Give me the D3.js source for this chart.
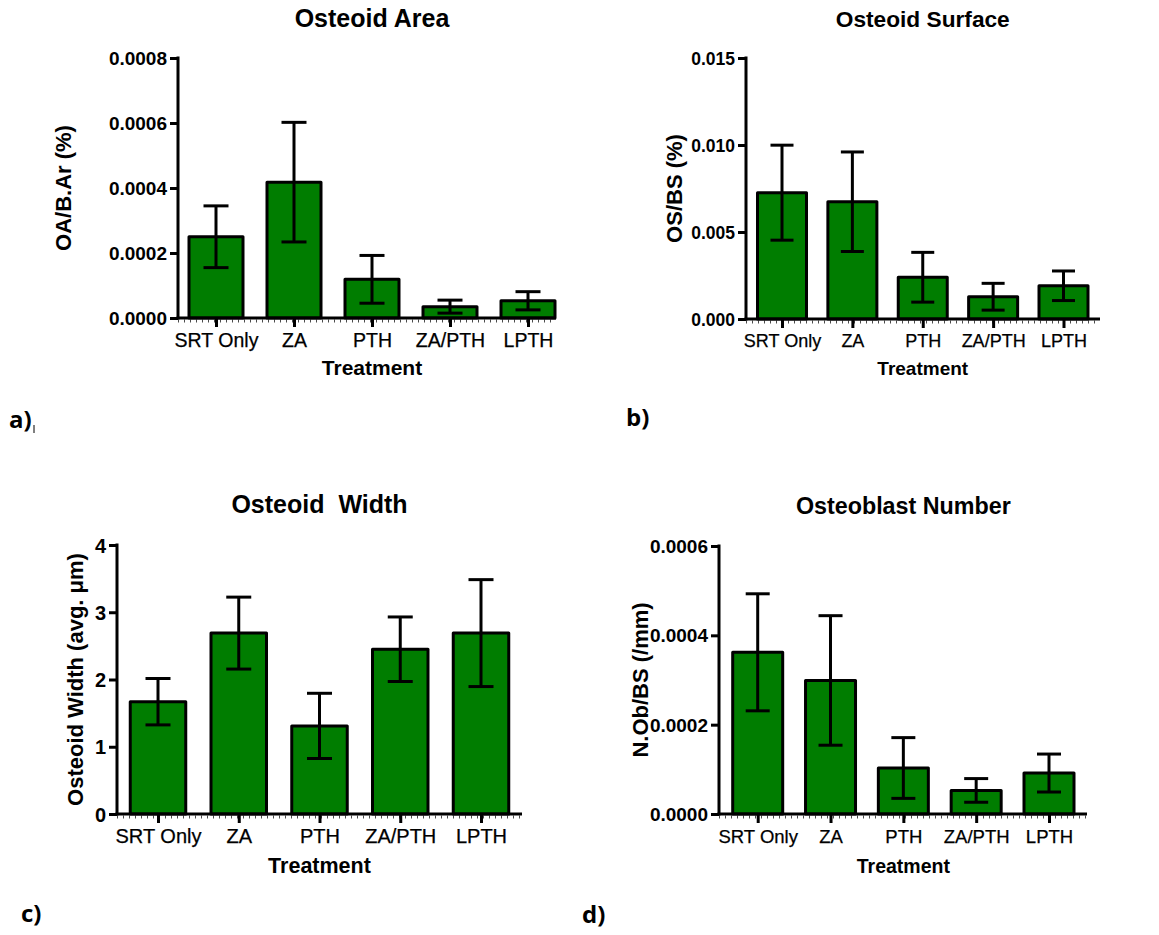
<!DOCTYPE html>
<html>
<head>
<meta charset="utf-8">
<script src="https://cdn.jsdelivr.net/npm/d3@7"></script>
<style>
  html, body { margin: 0; padding: 0; background: #fff; }
  svg { display: block; }
  text { font-family: "Liberation Sans", Arial, sans-serif; fill: #000; white-space: pre; }
</style>
</head>
<body>
<svg id="chart" width="1159" height="935"></svg>
<script>
// ---------------- data ----------------
const categories = ["SRT Only", "ZA", "PTH", "ZA/PTH", "LPTH"];

const areaMeans = [0.000250, 0.000418, 0.000119, 0.000035, 0.000053];
const areaSem   = [0.000095, 0.000184, 0.0000735, 0.000020, 0.000028];
const areaTicks = [0, 0.0002, 0.0004, 0.0006, 0.0008];

const surfaceMeans = [0.00726, 0.00674, 0.00240, 0.00128, 0.00191];
const surfaceSem   = [0.00273, 0.00286, 0.00143, 0.00077, 0.00085];
const surfaceTicks = [0, 0.005, 0.010, 0.015];

const widthMeans = [1.67, 2.69, 1.31, 2.45, 2.69];
const widthSem   = [0.345, 0.535, 0.485, 0.48, 0.795];
const widthTicks = [0, 1, 2, 3, 4];

const numberMeans = [0.000362, 0.000299, 0.000103, 0.0000528, 0.0000917];
const numberSem   = [0.000131, 0.000145, 0.000068, 0.0000265, 0.0000425];
const numberTicks = [0, 0.0002, 0.0004, 0.0006];

const titles  = ["Osteoid Area", "Osteoid Surface", "Osteoid  Width", "Osteoblast Number"];
const yLabels = ["OA/B.Ar (%)", "OS/BS (%)", "Osteoid Width (avg. \u03BCm)", "N.Ob/BS (/mm)"];
const xLabel  = "Treatment";
const panelTags = ["a)", "b)", "c)", "d)"];

// ---------------- layout ----------------
const panels = [
  { means: areaMeans, sem: areaSem, ticks: areaTicks, fmt: ".4f",
    ax0: 178, ax1: 556, c0: 216, c1: 528, y0: 318, yTop: 58, barW: 54, capW: 25,
    titleY: 27, titleSize: 25, yLabX: 71, yLabSize: 22, tickSize: 19, catSize: 19.5, catY: 347,
    xLabY: 375, xLabSize: 21, tagX: 9, tagY: 428 },
  { means: surfaceMeans, sem: surfaceSem, ticks: surfaceTicks, fmt: ".3f",
    ax0: 746, ax1: 1100, c0: 782, c1: 1063.5, y0: 319, yTop: 58, barW: 49, capW: 23,
    titleY: 27, titleSize: 22.7, yLabX: 682, yLabSize: 22, tickSize: 17.5, catSize: 18, catY: 347,
    xLabY: 375, xLabSize: 19, tagX: 626, tagY: 426 },
  { means: widthMeans, sem: widthSem, ticks: widthTicks, fmt: "d",
    ax0: 117, ax1: 522, c0: 158, c1: 481, y0: 814, yTop: 545, barW: 55.5, capW: 25,
    titleY: 513, titleSize: 25, yLabX: 83, yLabSize: 22, tickSize: 20, catSize: 20, catY: 843,
    xLabY: 873, xLabSize: 21.5, tagX: 21, tagY: 922 },
  { means: numberMeans, sem: numberSem, ticks: numberTicks, fmt: ".4f",
    ax0: 719, ax1: 1087, c0: 757.7, c1: 1049, y0: 814, yTop: 546, barW: 50, capW: 24,
    titleY: 514, titleSize: 23.3, yLabX: 648, yLabSize: 22, tickSize: 19, catSize: 18.5, catY: 843,
    xLabY: 873, xLabSize: 19.5, tagX: 582, tagY: 923 }
];

const svg = d3.select("#chart");
const GREEN = "#007d00";
const LW = 3;

panels.forEach((p, i) => {
  const g = svg.append("g");
  const x = d3.scalePoint().domain(categories).range([p.c0, p.c1]);
  const y = d3.scaleLinear()
    .domain([0, p.ticks[p.ticks.length - 1]])
    .range([p.y0, p.yTop]);
  const data = categories.map((c, k) => ({ c, m: p.means[k], s: p.sem[k] }));

  // bars
  g.selectAll("rect.bar").data(data).join("rect")
    .attr("class", "bar")
    .attr("x", d => x(d.c) - p.barW / 2)
    .attr("width", p.barW)
    .attr("y", d => y(d.m))
    .attr("height", d => y(0) - y(d.m))
    .attr("fill", GREEN)
    .attr("stroke", "#000")
    .attr("stroke-width", LW)
    .attr("stroke-linejoin", "round");

  // error bars
  const eb = g.selectAll("g.err").data(data).join("g").attr("class", "err")
    .attr("stroke", "#000").attr("stroke-width", LW).attr("fill", "none");
  eb.append("line")
    .attr("x1", d => x(d.c)).attr("x2", d => x(d.c))
    .attr("y1", d => y(d.m + d.s)).attr("y2", d => y(d.m - d.s));
  eb.append("line")
    .attr("x1", d => x(d.c) - p.capW / 2).attr("x2", d => x(d.c) + p.capW / 2)
    .attr("y1", d => y(d.m + d.s)).attr("y2", d => y(d.m + d.s));
  eb.append("line")
    .attr("x1", d => x(d.c) - p.capW / 2).attr("x2", d => x(d.c) + p.capW / 2)
    .attr("y1", d => y(d.m - d.s)).attr("y2", d => y(d.m - d.s));

  // y axis
  const yAxis = d3.axisLeft(y).tickValues(p.ticks)
    .tickFormat(d3.format(p.fmt)).tickSize(8).tickPadding(3);
  const ya = g.append("g").attr("transform", `translate(${p.ax0},0)`).call(yAxis);
  ya.select(".domain").remove();
  ya.selectAll(".tick line").attr("stroke", "#000").attr("stroke-width", LW);
  ya.selectAll(".tick text")
    .style("font-family", "'Liberation Sans', Arial, sans-serif")
    .style("font-weight", "bold").style("font-size", p.tickSize + "px")
    .attr("dy", "0.35em");
  g.append("line")
    .attr("x1", p.ax0).attr("x2", p.ax0)
    .attr("y1", y(p.ticks[p.ticks.length - 1]) - 1.5).attr("y2", p.y0 + 1.5)
    .attr("stroke", "#000").attr("stroke-width", LW);

  // x axis
  const xAxis = d3.axisBottom(x).tickSize(9).tickPadding(4);
  const xa = g.append("g").attr("transform", `translate(0,${p.y0})`).call(xAxis);
  xa.select(".domain").remove();
  xa.selectAll(".tick line").attr("stroke", "#000").attr("stroke-width", LW);
  xa.selectAll(".tick text")
    .style("font-family", "'Liberation Sans', Arial, sans-serif")
    .style("font-size", p.catSize + "px")
    .attr("stroke", "#000").attr("stroke-width", 0.25)
    .attr("dy", null)
    .attr("y", p.catY - p.y0);
  // minor dotted ticks under the baseline
  g.append("line")
    .attr("x1", p.ax0).attr("x2", p.ax1)
    .attr("y1", p.y0 + 3).attr("y2", p.y0 + 3)
    .attr("stroke", "#000").attr("stroke-width", 3)
    .attr("stroke-dasharray", "1,5").attr("opacity", 0.7);
  g.append("line")
    .attr("x1", p.ax0 - 1.5).attr("x2", p.ax1)
    .attr("y1", p.y0).attr("y2", p.y0)
    .attr("stroke", "#000").attr("stroke-width", LW);

  const midX = (p.c0 + p.c1) / 2;
  // title
  g.append("text")
    .attr("x", midX).attr("y", p.titleY)
    .attr("text-anchor", "middle")
    .style("font-weight", "bold").style("font-size", p.titleSize + "px")
    .text(titles[i]);
  // x label
  g.append("text")
    .attr("x", midX).attr("y", p.xLabY)
    .attr("text-anchor", "middle")
    .style("font-weight", "bold").style("font-size", p.xLabSize + "px")
    .text(xLabel);
  // y label
  g.append("text")
    .attr("transform", `translate(${p.yLabX},${(p.y0 + p.yTop) / 2}) rotate(-90)`)
    .attr("text-anchor", "middle")
    .style("font-weight", "bold").style("font-size", p.yLabSize + "px")
    .text(yLabels[i]);
  // panel tag
  g.append("text")
    .attr("x", p.tagX).attr("y", p.tagY)
    .style("font-family", "'Open Sans', 'Noto Sans', sans-serif")
    .style("font-weight", "bold").style("font-size", "24px")
    .text(panelTags[i]);
});

// small stray mark next to "a)"
svg.append("line").attr("x1", 34).attr("x2", 34).attr("y1", 425).attr("y2", 433)
  .attr("stroke", "#000").attr("stroke-width", 1);
</script>
</body>
</html>
